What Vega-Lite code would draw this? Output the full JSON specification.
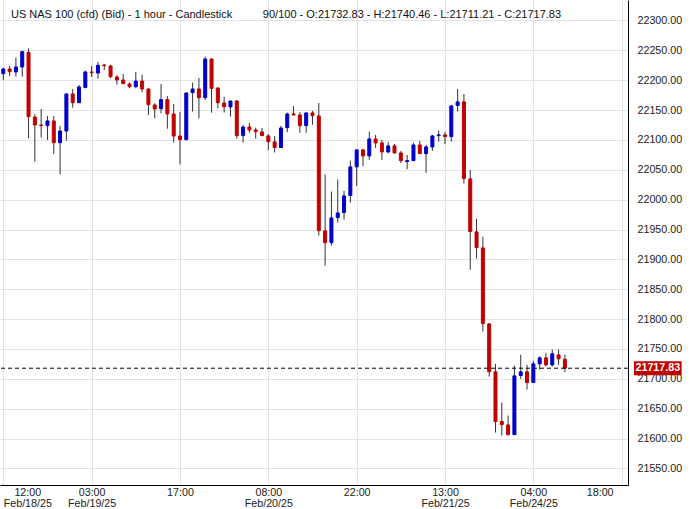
{
  "$schema": "https://vega.github.io/schema/vega-lite/v6.json",
  "width": 628,
  "height": 485,
  "autosize": "none",
  "padding": {"left": 0, "top": 0, "right": 62, "bottom": 24},
  "background": "white",
  "config": {
    "view": {"stroke": null},
    "font": "Liberation Sans",
    "axis": {"labelFont": "Liberation Sans", "labelColor": "#222222", "gridColor": "#e3e3e3", "gridWidth": 1, "domainColor": "#000000", "domainWidth": 1, "ticks": false, "title": null},
    "axisX": {
      "grid": true,
      "labelFontSize": 10.7,
      "labelPadding": 2,
      "labelLineHeight": 11,
      "labelBaseline": "top",
      "labelFlush": false,
      "labelOverlap": false
    },
    "axisY": {
      "grid": true,
      "labelFontSize": 10.7,
      "labelPadding": 9,
      "labelAlign": "left",
      "labelBaseline": "middle",
      "labelOverlap": false,
      "labelFlush": false
    }
  },
  "title": {
    "text": "US NAS 100 (cfd) (Bid) - 1 hour - Candlestick\u00a0\u00a0\u00a0\u00a0\u00a0\u00a0\u00a0\u00a0\u00a0\u00a090/100 - O:21732.83 - H:21740.46 - L:21711.21 - C:21717.83",
    "anchor": "start",
    "frame": "group",
    "orient": "top",
    "baseline": "middle",
    "offset": -13,
    "dy": 13,
    "dx": 11,
    "font": "Liberation Sans",
    "fontSize": 11,
    "fontWeight": "normal",
    "color": "#111111"
  },
  "datasets": {
    "candles": [
      {"i": 0, "t": "2025-02-18 12:00", "o": 22211.0, "h": 22221.0, "l": 22200.4, "c": 22218.8},
      {"i": 1, "t": "2025-02-18 13:00", "o": 22218.8, "h": 22223.8, "l": 22207.0, "c": 22214.3},
      {"i": 2, "t": "2025-02-18 14:00", "o": 22213.8, "h": 22237.8, "l": 22206.0, "c": 22222.2},
      {"i": 3, "t": "2025-02-18 15:00", "o": 22222.2, "h": 22249.5, "l": 22206.0, "c": 22247.8},
      {"i": 4, "t": "2025-02-18 16:00", "o": 22246.7, "h": 22253.4, "l": 22102.8, "c": 22139.0},
      {"i": 5, "t": "2025-02-18 17:00", "o": 22138.4, "h": 22143.4, "l": 22063.7, "c": 22125.0},
      {"i": 6, "t": "2025-02-18 18:00", "o": 22125.0, "h": 22151.8, "l": 22104.0, "c": 22124.0},
      {"i": 7, "t": "2025-02-18 19:00", "o": 22124.0, "h": 22140.0, "l": 22100.0, "c": 22131.8},
      {"i": 8, "t": "2025-02-18 20:00", "o": 22131.8, "h": 22140.0, "l": 22076.5, "c": 22095.5},
      {"i": 9, "t": "2025-02-18 21:00", "o": 22095.5, "h": 22123.4, "l": 22042.5, "c": 22115.0},
      {"i": 10, "t": "2025-02-18 22:00", "o": 22115.0, "h": 22178.0, "l": 22098.8, "c": 22177.0},
      {"i": 11, "t": "2025-02-19 00:00", "o": 22177.0, "h": 22185.3, "l": 22154.0, "c": 22162.4},
      {"i": 12, "t": "2025-02-19 01:00", "o": 22162.4, "h": 22192.0, "l": 22162.0, "c": 22188.7},
      {"i": 13, "t": "2025-02-19 02:00", "o": 22188.0, "h": 22216.0, "l": 22186.4, "c": 22213.8},
      {"i": 14, "t": "2025-02-19 03:00", "o": 22213.8, "h": 22223.8, "l": 22205.4, "c": 22212.7},
      {"i": 15, "t": "2025-02-19 04:00", "o": 22212.0, "h": 22230.5, "l": 22202.6, "c": 22225.0},
      {"i": 16, "t": "2025-02-19 05:00", "o": 22225.5, "h": 22227.0, "l": 22217.0, "c": 22224.4},
      {"i": 17, "t": "2025-02-19 06:00", "o": 22223.8, "h": 22226.0, "l": 22203.2, "c": 22206.0},
      {"i": 18, "t": "2025-02-19 07:00", "o": 22205.4, "h": 22208.2, "l": 22192.6, "c": 22200.4},
      {"i": 19, "t": "2025-02-19 08:00", "o": 22200.4, "h": 22210.4, "l": 22193.6, "c": 22194.2},
      {"i": 20, "t": "2025-02-19 09:00", "o": 22193.6, "h": 22196.0, "l": 22186.4, "c": 22189.2},
      {"i": 21, "t": "2025-02-19 10:00", "o": 22189.2, "h": 22213.8, "l": 22186.4, "c": 22198.6},
      {"i": 22, "t": "2025-02-19 11:00", "o": 22198.6, "h": 22209.3, "l": 22179.7, "c": 22185.3},
      {"i": 23, "t": "2025-02-19 12:00", "o": 22185.3, "h": 22186.5, "l": 22141.8, "c": 22159.1},
      {"i": 24, "t": "2025-02-19 13:00", "o": 22158.5, "h": 22161.3, "l": 22136.2, "c": 22151.8},
      {"i": 25, "t": "2025-02-19 14:00", "o": 22152.4, "h": 22193.7, "l": 22144.6, "c": 22167.5},
      {"i": 26, "t": "2025-02-19 15:00", "o": 22167.5, "h": 22173.6, "l": 22118.9, "c": 22143.5},
      {"i": 27, "t": "2025-02-19 16:00", "o": 22143.5, "h": 22160.2, "l": 22095.5, "c": 22106.6},
      {"i": 28, "t": "2025-02-19 17:00", "o": 22106.6, "h": 22146.8, "l": 22059.2, "c": 22100.5},
      {"i": 29, "t": "2025-02-19 18:00", "o": 22100.5, "h": 22179.7, "l": 22099.4, "c": 22178.6},
      {"i": 30, "t": "2025-02-19 19:00", "o": 22179.2, "h": 22196.0, "l": 22147.4, "c": 22185.3},
      {"i": 31, "t": "2025-02-19 20:00", "o": 22185.3, "h": 22203.7, "l": 22136.2, "c": 22170.8},
      {"i": 32, "t": "2025-02-19 21:00", "o": 22170.8, "h": 22239.4, "l": 22167.0, "c": 22235.5},
      {"i": 33, "t": "2025-02-19 22:00", "o": 22235.5, "h": 22236.6, "l": 22145.7, "c": 22186.4},
      {"i": 34, "t": "2025-02-20 00:00", "o": 22187.0, "h": 22188.0, "l": 22153.0, "c": 22162.4},
      {"i": 35, "t": "2025-02-20 01:00", "o": 22161.9, "h": 22172.5, "l": 22145.8, "c": 22155.5},
      {"i": 36, "t": "2025-02-20 02:00", "o": 22155.2, "h": 22165.5, "l": 22139.0, "c": 22165.2},
      {"i": 37, "t": "2025-02-20 03:00", "o": 22165.2, "h": 22166.9, "l": 22102.2, "c": 22107.2},
      {"i": 38, "t": "2025-02-20 04:00", "o": 22107.2, "h": 22125.0, "l": 22095.5, "c": 22121.7},
      {"i": 39, "t": "2025-02-20 05:00", "o": 22121.7, "h": 22128.4, "l": 22112.2, "c": 22116.7},
      {"i": 40, "t": "2025-02-20 06:00", "o": 22116.7, "h": 22120.6, "l": 22102.2, "c": 22113.9},
      {"i": 41, "t": "2025-02-20 07:00", "o": 22113.4, "h": 22120.0, "l": 22106.7, "c": 22107.2},
      {"i": 42, "t": "2025-02-20 08:00", "o": 22106.7, "h": 22110.0, "l": 22082.8, "c": 22097.2},
      {"i": 43, "t": "2025-02-20 09:00", "o": 22096.7, "h": 22106.7, "l": 22078.9, "c": 22087.2},
      {"i": 44, "t": "2025-02-20 10:00", "o": 22087.2, "h": 22123.4, "l": 22086.7, "c": 22120.0},
      {"i": 45, "t": "2025-02-20 11:00", "o": 22120.6, "h": 22145.8, "l": 22113.0, "c": 22143.5},
      {"i": 46, "t": "2025-02-20 12:00", "o": 22143.5, "h": 22156.9, "l": 22141.3, "c": 22141.8},
      {"i": 47, "t": "2025-02-20 13:00", "o": 22141.8, "h": 22146.3, "l": 22112.2, "c": 22124.0},
      {"i": 48, "t": "2025-02-20 14:00", "o": 22124.0, "h": 22146.3, "l": 22112.2, "c": 22145.2},
      {"i": 49, "t": "2025-02-20 15:00", "o": 22145.2, "h": 22148.6, "l": 22125.6, "c": 22140.7},
      {"i": 50, "t": "2025-02-20 16:00", "o": 22140.2, "h": 22161.9, "l": 21939.9, "c": 21948.2},
      {"i": 51, "t": "2025-02-20 17:00", "o": 21947.7, "h": 22042.2, "l": 21889.5, "c": 21928.1},
      {"i": 52, "t": "2025-02-20 18:00", "o": 21928.1, "h": 22013.7, "l": 21923.1, "c": 21969.4},
      {"i": 53, "t": "2025-02-20 19:00", "o": 21970.0, "h": 22033.8, "l": 21961.6, "c": 21977.8},
      {"i": 54, "t": "2025-02-20 20:00", "o": 21978.4, "h": 22014.8, "l": 21966.6, "c": 22006.3},
      {"i": 55, "t": "2025-02-20 21:00", "o": 22006.9, "h": 22065.5, "l": 21995.1, "c": 22054.9},
      {"i": 56, "t": "2025-02-20 22:00", "o": 22054.9, "h": 22084.5, "l": 22023.0, "c": 22083.3},
      {"i": 57, "t": "2025-02-21 00:00", "o": 22083.3, "h": 22085.0, "l": 22056.0, "c": 22073.3},
      {"i": 58, "t": "2025-02-21 01:00", "o": 22073.3, "h": 22114.0, "l": 22066.6, "c": 22101.7},
      {"i": 59, "t": "2025-02-21 02:00", "o": 22101.7, "h": 22108.4, "l": 22086.6, "c": 22095.0},
      {"i": 60, "t": "2025-02-21 03:00", "o": 22095.0, "h": 22100.0, "l": 22066.6, "c": 22079.9},
      {"i": 61, "t": "2025-02-21 04:00", "o": 22079.9, "h": 22096.7, "l": 22077.7, "c": 22090.0},
      {"i": 62, "t": "2025-02-21 05:00", "o": 22090.0, "h": 22093.3, "l": 22077.7, "c": 22078.2},
      {"i": 63, "t": "2025-02-21 06:00", "o": 22078.2, "h": 22081.6, "l": 22061.5, "c": 22065.4},
      {"i": 64, "t": "2025-02-21 07:00", "o": 22063.7, "h": 22074.9, "l": 22051.0, "c": 22065.4},
      {"i": 65, "t": "2025-02-21 08:00", "o": 22065.4, "h": 22095.5, "l": 22064.8, "c": 22091.6},
      {"i": 66, "t": "2025-02-21 09:00", "o": 22091.6, "h": 22098.3, "l": 22076.6, "c": 22077.1},
      {"i": 67, "t": "2025-02-21 10:00", "o": 22077.1, "h": 22091.6, "l": 22045.0, "c": 22088.3},
      {"i": 68, "t": "2025-02-21 11:00", "o": 22088.3, "h": 22108.4, "l": 22081.6, "c": 22106.7},
      {"i": 69, "t": "2025-02-21 12:00", "o": 22107.2, "h": 22115.6, "l": 22097.2, "c": 22108.4},
      {"i": 70, "t": "2025-02-21 13:00", "o": 22108.4, "h": 22113.4, "l": 22093.3, "c": 22105.6},
      {"i": 71, "t": "2025-02-21 14:00", "o": 22105.6, "h": 22158.7, "l": 22097.2, "c": 22157.0},
      {"i": 72, "t": "2025-02-21 15:00", "o": 22157.6, "h": 22185.3, "l": 22147.4, "c": 22163.7},
      {"i": 73, "t": "2025-02-21 16:00", "o": 22163.7, "h": 22177.0, "l": 22026.8, "c": 22035.4},
      {"i": 74, "t": "2025-02-21 17:00", "o": 22034.8, "h": 22049.8, "l": 21882.8, "c": 21946.6},
      {"i": 75, "t": "2025-02-21 18:00", "o": 21946.0, "h": 21968.2, "l": 21901.4, "c": 21919.8},
      {"i": 76, "t": "2025-02-21 19:00", "o": 21919.2, "h": 21937.8, "l": 21779.2, "c": 21792.6},
      {"i": 77, "t": "2025-02-21 20:00", "o": 21792.0, "h": 21793.1, "l": 21703.8, "c": 21712.2},
      {"i": 78, "t": "2025-02-21 21:00", "o": 21711.7, "h": 21725.1, "l": 21610.1, "c": 21628.5},
      {"i": 79, "t": "2025-02-21 22:00", "o": 21628.5, "h": 21660.3, "l": 21605.1, "c": 21623.5},
      {"i": 80, "t": "2025-02-24 00:00", "o": 21622.9, "h": 21638.6, "l": 21605.1, "c": 21606.7},
      {"i": 81, "t": "2025-02-24 01:00", "o": 21606.7, "h": 21722.3, "l": 21606.0, "c": 21705.0},
      {"i": 82, "t": "2025-02-24 02:00", "o": 21705.6, "h": 21740.3, "l": 21700.0, "c": 21711.7},
      {"i": 83, "t": "2025-02-24 03:00", "o": 21711.7, "h": 21723.4, "l": 21682.1, "c": 21693.9},
      {"i": 84, "t": "2025-02-24 04:00", "o": 21693.9, "h": 21730.2, "l": 21693.5, "c": 21725.1},
      {"i": 85, "t": "2025-02-24 05:00", "o": 21725.1, "h": 21737.4, "l": 21715.6, "c": 21735.2},
      {"i": 86, "t": "2025-02-24 06:00", "o": 21735.2, "h": 21743.6, "l": 21720.7, "c": 21723.4},
      {"i": 87, "t": "2025-02-24 07:00", "o": 21723.4, "h": 21749.1, "l": 21720.7, "c": 21741.9},
      {"i": 88, "t": "2025-02-24 08:00", "o": 21740.2, "h": 21749.1, "l": 21723.4, "c": 21733.5},
      {"i": 89, "t": "2025-02-24 09:00", "o": 21732.83, "h": 21740.46, "l": 21711.21, "c": 21717.83}
    ],
    "last": [
      {"price": 21717.83, "label": "21717.83"}
    ]
  },
  "resolve": {"scale": {"x": "shared", "y": "shared"}},
  "layer": [
    {
      "data": {"name": "candles"},
      "mark": {"type": "rule", "color": "#333333", "strokeWidth": 1},
      "encoding": {
        "x": {
          "field": "i",
          "type": "quantitative",
          "scale": {"domain": [-0.523, 99.0], "nice": false, "zero": false, "padding": 0},
          "axis": {
            "orient": "bottom",
            "values": [0, 14, 28, 42, 56, 70, 84, 98],
            "labelOffset": {"condition": [{"test": "datum.value == 0", "value": 24}, {"test": "datum.value == 98", "value": -22}], "value": 0},
            "labelExpr": "datum.value == 0 ? ['12:00','Feb/18/25'] : datum.value == 14 ? ['03:00','Feb/19/25'] : datum.value == 28 ? '17:00' : datum.value == 42 ? ['08:00','Feb/20/25'] : datum.value == 56 ? '22:00' : datum.value == 70 ? ['13:00','Feb/21/25'] : datum.value == 84 ? ['04:00','Feb/24/25'] : '18:00'"
          }
        },
        "y": {
          "field": "l",
          "type": "quantitative",
          "scale": {"domain": [21522.3, 22334.3], "nice": false, "zero": false, "padding": 0},
          "axis": {"orient": "right", "format": ".2f"}
        },
        "y2": {"field": "h"}
      }
    },
    {
      "data": {"name": "candles"},
      "mark": {"type": "bar", "size": 3, "strokeWidth": 1},
      "encoding": {
        "x": {"field": "i", "type": "quantitative"},
        "y": {"field": "o", "type": "quantitative"},
        "y2": {"field": "c"},
        "color": {"condition": {"test": "datum.c > datum.o", "value": "#0000C8"}, "value": "#C00000"},
        "stroke": {"condition": {"test": "datum.c > datum.o", "value": "#0000C8"}, "value": "#C00000"}
      }
    },
    {
      "data": {"name": "last"},
      "mark": {"type": "rule", "color": "#000000", "strokeWidth": 1, "strokeDash": [4, 3]},
      "encoding": {
        "y": {"field": "price", "type": "quantitative"}
      }
    },
    {
      "data": {"name": "last"},
      "mark": {"type": "bar", "orient": "horizontal", "size": 14, "color": "#C00000", "clip": false},
      "encoding": {
        "y": {"field": "price", "type": "quantitative"},
        "x": {"datum": 99.95},
        "x2": {"datum": 107.5}
      }
    },
    {
      "data": {"name": "last"},
      "mark": {"type": "text", "color": "white", "fontWeight": "bold", "fontSize": 10.7, "font": "Liberation Sans", "align": "center", "baseline": "middle", "clip": false},
      "encoding": {
        "y": {"field": "price", "type": "quantitative"},
        "x": {"datum": 103.72},
        "text": {"field": "label"}
      }
    }
  ]
}
